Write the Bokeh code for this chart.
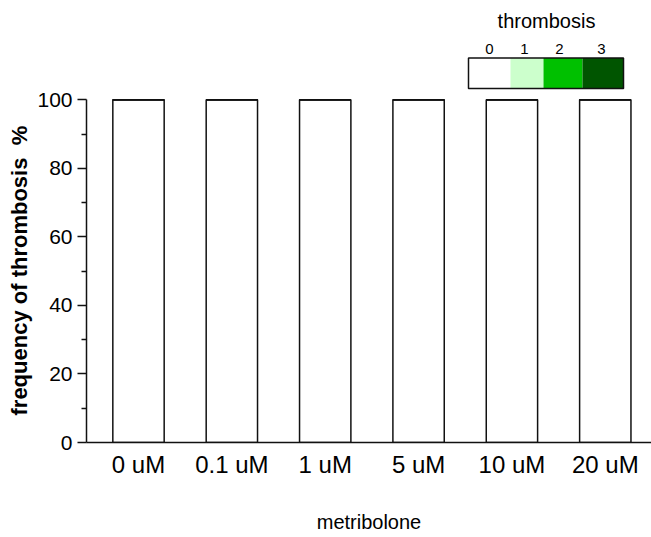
import math
from bokeh.plotting import figure
from bokeh.models import Range1d, FixedTicker, ColumnDataSource, Title
from bokeh.core.properties import value
from bokeh.embed import file_html
from bokeh.resources import INLINE

# ---------------- data ----------------
categories = ["0 uM", "0.1 uM", "1 uM", "5 uM", "10 uM", "20 uM"]
levels = ["0", "1", "2", "3"]
score0 = [100, 100, 100, 100, 100, 100]
score1 = [0, 0, 0, 0, 0, 0]
score2 = [0, 0, 0, 0, 0, 0]
score3 = [0, 0, 0, 0, 0, 0]
level_colors = ["#ffffff", "#ccffcc", "#00c000", "#005500"]
y_ticks = [0, 20, 40, 60, 80, 100]
y_minor = [10, 30, 50, 70, 90]

# ---------------- layout ----------------
FONT = "Liberation Sans"
W, H = 651, 537
LEFT, RIGHT, TOP, BOTTOM = 86, 0, 0, 95
frame_w = W - LEFT - RIGHT
frame_h = H - TOP - BOTTOM
X0, X1 = -0.557, 5.495
YMAX = 129.0
PAGE = 0


def xd(px):
    return X0 + (px - PAGE - LEFT) * (X1 - X0) / frame_w


def yd(py):
    return (TOP + frame_h + PAGE - py) * YMAX / frame_h


p = figure(width=W, height=H, output_backend="svg", toolbar_location=None,
           x_range=Range1d(X0, X1), y_range=Range1d(0, YMAX),
           min_border_left=LEFT, min_border_right=RIGHT,
           min_border_top=TOP, min_border_bottom=BOTTOM)
p.outline_line_color = None
p.xgrid.visible = False
p.ygrid.visible = False
p.background_fill_color = "white"
p.border_fill_color = "white"

idx = list(range(len(categories)))
src = ColumnDataSource(dict(x=idx, s0=score0, s1=score1, s2=score2, s3=score3))
p.vbar_stack(["s0", "s1", "s2", "s3"], x="x", width=0.55, source=src,
             color=level_colors, line_color="#111111", line_width=1.5)

# y axis
ya = p.yaxis[0]
ya.ticker = FixedTicker(ticks=y_ticks, minor_ticks=y_minor)
ya.bounds = (0, 100)
ya.axis_line_width = 1.5
ya.major_tick_line_width = 1.5
ya.minor_tick_line_width = 1.5
ya.major_tick_out = 9
ya.major_tick_in = 0
ya.minor_tick_out = 5
ya.minor_tick_in = 0
ya.major_label_text_font = FONT
ya.major_label_text_font_size = "21px"
ya.major_label_text_color = "black"
ya.major_label_standoff = 5
ya.axis_line_color = "#111111"
ya.major_tick_line_color = "#111111"
ya.minor_tick_line_color = "#111111"

# x axis
xa = p.xaxis[0]
xa.ticker = FixedTicker(ticks=idx, minor_ticks=[])
xa.major_label_overrides = {i: c for i, c in zip(idx, categories)}
xa.major_tick_out = 0
xa.major_tick_in = 0
xa.minor_tick_out = 0
xa.minor_tick_in = 0
xa.axis_line_width = 1.5
xa.axis_line_color = "#111111"
xa.major_label_text_font = FONT
xa.major_label_text_font_size = "24px"
xa.major_label_text_color = "black"
xa.major_label_standoff = 8
xa.axis_label = "metribolone"
xa.axis_label_text_font = FONT
xa.axis_label_text_font_size = "20px"
xa.axis_label_text_font_style = "normal"
xa.axis_label_text_color = "black"
xa.axis_label_standoff = 30

# y title (vertical title in the left panel, starting near the frame bottom)
p.add_layout(Title(text="frequency of thrombosis\u00a0\u00a0%", align="left",
                   offset=27, text_font=FONT, text_font_size="22px",
                   text_font_style="bold", text_color="black", standoff=6),
             "left")

# legend (colour key)
edges_px = [468, 510, 543, 582, 623]
top_px, bot_px = 57.5, 88
lefts = [xd(v) for v in edges_px[:-1]]
rights = [xd(v) for v in edges_px[1:]]
p.quad(left=lefts, right=rights, top=[yd(top_px)] * 4, bottom=[yd(bot_px)] * 4,
       fill_color=level_colors, line_color=None)
p.quad(left=[xd(edges_px[0])], right=[xd(edges_px[-1])], top=[yd(top_px)],
       bottom=[yd(bot_px)], fill_color=None, line_color="#111111", line_width=1.5)
label_px = [489, 524, 559, 601]
p.text(x=[xd(v) for v in label_px], y=[yd(48.5)] * 4, text=levels,
       text_align="center", text_baseline="alphabetic",
       text_font=value(FONT), text_font_size="15px", text_color="black")
p.text(x=[xd(546)], y=[yd(20)], text=["thrombosis"], text_align="center",
       text_baseline="alphabetic", text_font=value(FONT), text_font_size="20px",
       text_color="black")

open("out.html", "w").write(file_html(p, INLINE))
